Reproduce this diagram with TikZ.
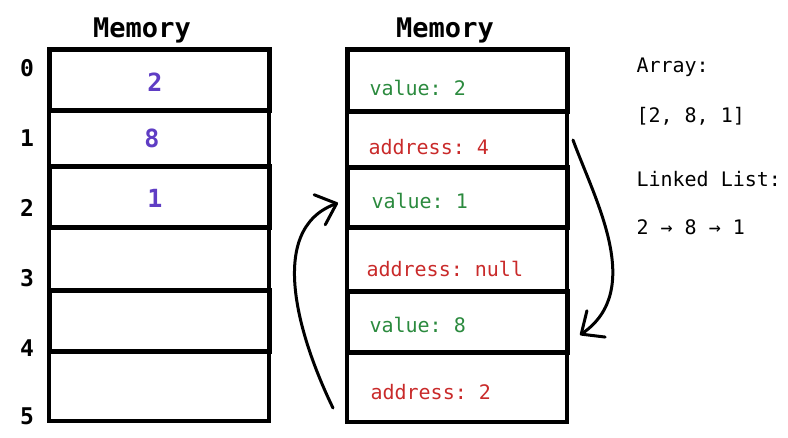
\documentclass[tikz,border=0pt]{standalone}
\usepackage{fontspec}
\setmonofont{DejaVu Sans Mono}
\definecolor{valgreen}{RGB}{43, 138, 62}
\definecolor{addrred}{RGB}{201, 42, 42}
\definecolor{numviolet}{RGB}{95, 61, 196}
\usetikzlibrary{arrows.meta, calc}
\tikzset{
    every node/.style={font=\ttfamily\bfseries},
    memcell/.style={draw, line width=3.5pt, minimum width=220pt, inner sep=0pt},
    memcellbold/.style={memcell, line width=5pt},
    memtitle/.style={font=\ttfamily\bfseries\fontsize{27}{32}\selectfont,
        anchor=base},
    rowindex/.style={font=\ttfamily\bfseries\fontsize{23}{28}\selectfont,
        anchor=base},
    arrnum/.style={font=\ttfamily\bfseries\fontsize{25}{28}\selectfont,
        anchor=base, text=numviolet},
    fieldtext/.style={font=\ttfamily\fontsize{20}{24}\selectfont,
        anchor=base west},
    sidenote/.style={font=\ttfamily\fontsize{20}{24}\selectfont,
        anchor=base west},
    nextptr/.style={line width=3pt, line cap=round,
        -{Straight Barb[length=18pt, width=32pt, line cap=round,
            line join=round]}},
}

\begin{document}
\begin{tikzpicture}[x=1pt, y=-1pt]
            \useasboundingbox (0, 0) rectangle (788, 438);
            % array layout
            \node[memtitle] (arrtitle) at (142, 38) {Memory};
            \node[memcell, minimum height=56pt] (a1) at (159, 139) {};
            \node[memcell, minimum height=63pt] (a3) at (159, 259.5) {};
            \node[memcell, minimum height=69pt] (a5) at (159, 386.5) {};
            \node[memcellbold, minimum height=61pt] (a0) at (159, 80.5) {};
            \node[memcellbold, minimum height=61pt] (a2) at (159, 197.5) {};
            \node[memcellbold, minimum height=61pt] (a4) at (159, 321.5) {};
            \node[arrnum] (n0) at (155, 92) {2};
            \node[arrnum] (n1) at (152, 148) {8};
            \node[arrnum] (n2) at (155, 208) {1};
            \foreach \i/\y in {0/77, 1/147, 2/217, 3/287, 4/357, 5/425}
                \node[rowindex] (idx\i) at (27, \y) {\i};
            % linked list layout
            \node[memtitle] (lsttitle) at (445, 38) {Memory};
            \node[memcell, minimum height=56pt] (l1) at (457, 140) {};
            \node[memcell, minimum height=64pt] (l3) at (457, 260) {};
            \node[memcell, minimum height=69pt] (l5) at (457, 387.5) {};
            \node[memcellbold, minimum height=62pt] (l0) at (457, 81) {};
            \node[memcellbold, minimum height=60pt] (l2) at (457, 198) {};
            \node[memcellbold, minimum height=61pt] (l4) at (457, 322.5) {};
            \node[fieldtext, text=valgreen] (val2) at (366, 96) {value: 2};
            \node[fieldtext, text=addrred] (ptr4) at (365, 155) {address: 4};
            \node[fieldtext, text=valgreen] (val1) at (368, 209) {value: 1};
            \node[fieldtext, text=addrred] (ptrnull) at (363, 277)
                {address: null};
            \node[fieldtext, text=valgreen] (val8) at (366, 333) {value: 8};
            \node[fieldtext, text=addrred] (ptr2) at (367, 400) {address: 2};
            % notes
            \node[sidenote] (arrhead) at (633, 73) {Array:};
            \node[sidenote] (arrvals) at (633, 123) {[2, 8, 1]};
            \node[sidenote] (lsthead) at (633, 187) {Linked List:};
            \node[sidenote] (lstvals) at (633, 235) {2 → 8 → 1};
            % pointers
            \coordinate (from4) at (573, 140);
            \coordinate (to8) at (580, 335);
            \coordinate (from2) at (333, 408);
            \coordinate (to1) at (338, 203);
            \draw[nextptr] (from4) .. controls (595, 200) and (645, 290)
                .. (to8);
            \draw[nextptr] (from2) .. controls (300, 340) and (265, 230)
                .. (to1);
        \end{tikzpicture}
\end{document}
